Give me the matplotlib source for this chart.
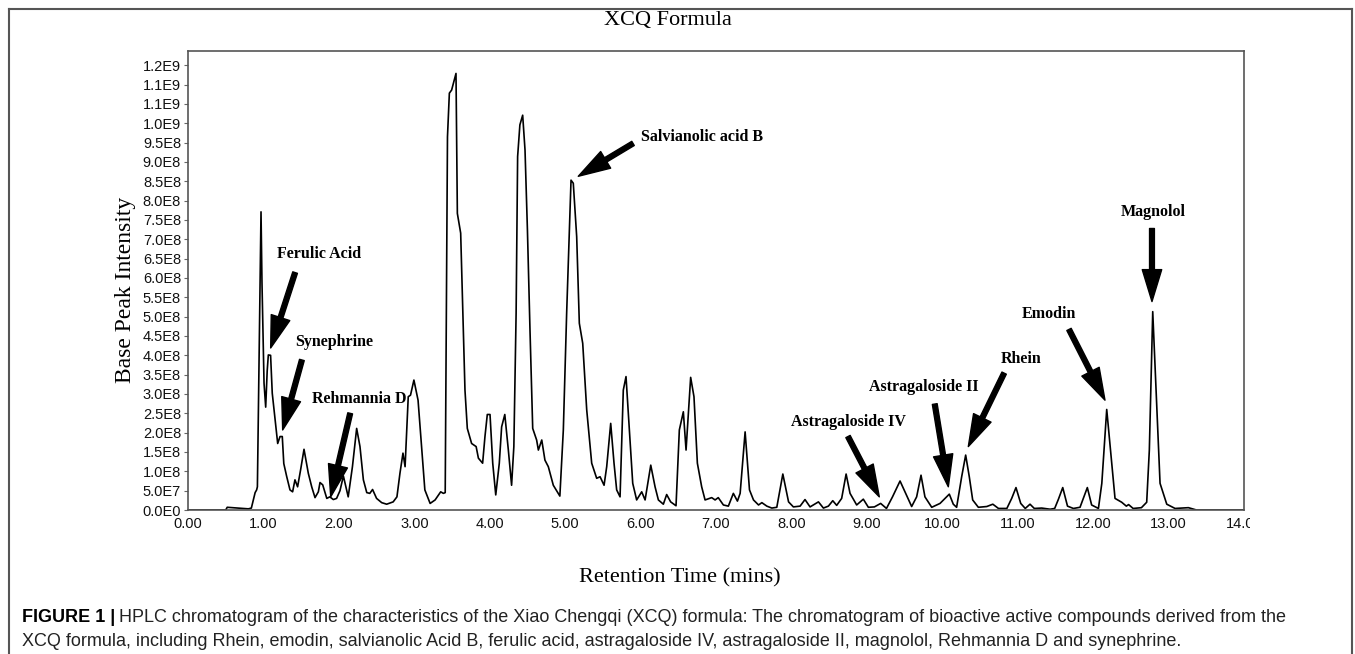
import numpy as np
import matplotlib

matplotlib.use("Agg")
import matplotlib.pyplot as plt
from matplotlib.lines import Line2D
from matplotlib.transforms import Bbox, TransformedBbox

# retention time (mins) and base peak intensity (x1e8)
rt = [
    0.00, 0.50, 0.52, 0.80, 0.84, 0.89, 0.91, 0.92, 0.968, 0.981, 1.008, 1.03,
    1.05, 1.065, 1.095, 1.117, 1.14, 1.189, 1.22, 1.25, 1.27, 1.308, 1.352,
    1.387, 1.418, 1.453, 1.493, 1.538, 1.595, 1.64, 1.684, 1.728, 1.75, 1.786,
    1.84, 1.88, 1.927, 1.97, 2.015, 2.06, 2.124, 2.18, 2.236, 2.28, 2.325,
    2.37, 2.41, 2.447, 2.50, 2.568, 2.634, 2.72, 2.77, 2.81, 2.85, 2.878,
    2.92, 2.95, 2.995, 3.05, 3.10, 3.14, 3.21, 3.276, 3.35, 3.386, 3.41,
    3.44, 3.465, 3.495, 3.553, 3.571, 3.615, 3.65, 3.672, 3.703, 3.76, 3.82,
    3.85, 3.906, 3.937, 3.968, 4.004, 4.04, 4.08, 4.127, 4.158, 4.20, 4.247,
    4.29, 4.32, 4.35, 4.37, 4.40, 4.437, 4.468, 4.50, 4.534, 4.57, 4.622,
    4.645, 4.69, 4.732, 4.777, 4.843, 4.93, 4.976, 5.02, 5.078, 5.108, 5.153,
    5.188, 5.233, 5.286, 5.352, 5.418, 5.463, 5.516, 5.551, 5.604, 5.648,
    5.683, 5.728, 5.771, 5.807, 5.851, 5.896, 5.948, 6.015, 6.06, 6.135,
    6.192, 6.236, 6.302, 6.346, 6.399, 6.47, 6.514, 6.567, 6.603, 6.664,
    6.708, 6.753, 6.81, 6.855, 6.912, 6.943, 6.988, 7.03, 7.098, 7.164, 7.23,
    7.284, 7.32, 7.386, 7.444, 7.497, 7.564, 7.608, 7.674, 7.74, 7.806, 7.886,
    7.962, 8.026, 8.115, 8.18, 8.247, 8.358, 8.424, 8.49, 8.548, 8.60, 8.666,
    8.725, 8.777, 8.865, 8.953, 9.02, 9.10, 9.183, 9.26, 9.34, 9.44, 9.505,
    9.594, 9.66, 9.718, 9.77, 9.86, 9.97, 10.093, 10.146, 10.19, 10.257,
    10.31, 10.358, 10.403, 10.478, 10.59, 10.67, 10.745, 10.856, 10.92,
    10.977, 11.04, 11.10, 11.163, 11.22, 11.318, 11.43, 11.49, 11.54, 11.597,
    11.66, 11.738, 11.826, 11.923, 11.98, 12.07, 12.115, 12.18, 12.238, 12.29,
    12.379, 12.44, 12.47, 12.53, 12.64, 12.71, 12.745, 12.79, 12.83, 12.887,
    12.976, 13.086, 13.263, 13.37, 14.00,
]
intensity = [
    0.00, 0.00, 0.07, 0.03, 0.05, 0.45, 0.52, 0.60, 7.71, 5.86, 3.28, 2.66,
    3.60, 4.01, 4.00, 3.02, 2.60, 1.72, 1.90, 1.90, 1.20, 0.87, 0.52,
    0.47, 0.78, 0.60, 1.04, 1.57, 0.95, 0.60, 0.32, 0.47, 0.71, 0.65,
    0.30, 0.34, 0.27, 0.30, 0.50, 0.88, 0.34, 1.12, 2.11, 1.64, 0.78,
    0.45, 0.43, 0.53, 0.30, 0.19, 0.15, 0.21, 0.34, 0.95, 1.47, 1.12,
    2.93, 2.97, 3.36, 2.84, 1.55, 0.52, 0.17, 0.26, 0.47, 0.43, 0.45,
    9.65, 10.78, 10.86, 11.29, 7.67, 7.16, 4.65, 3.10, 2.11, 1.72, 1.64,
    1.34, 1.21, 1.90, 2.47, 2.47, 1.21, 0.39, 1.21, 2.15, 2.47, 1.55,
    0.64, 1.64, 5.09, 9.14, 9.96, 10.21, 9.31, 7.24, 4.65, 2.11, 1.81,
    1.55, 1.81, 1.29, 1.12, 0.64, 0.36, 2.07, 5.09, 8.53, 8.45, 7.07,
    4.83, 4.31, 2.59, 1.21, 0.82, 0.86, 0.64, 1.12, 2.24, 1.21,
    0.52, 0.34, 3.10, 3.45, 2.07, 0.69, 0.26, 0.47, 0.26, 1.16,
    0.60, 0.26, 0.15, 0.40, 0.21, 0.11, 2.07, 2.54, 1.55, 3.43,
    2.93, 1.21, 0.60, 0.26, 0.30, 0.32, 0.26, 0.32, 0.13, 0.10, 0.43,
    0.23, 0.43, 2.02, 0.52, 0.26, 0.13, 0.19, 0.10, 0.05, 0.07, 0.93,
    0.21, 0.08, 0.10, 0.27, 0.08, 0.21, 0.05, 0.10, 0.24, 0.12, 0.30,
    0.93, 0.43, 0.13, 0.28, 0.07, 0.08, 0.17, 0.04, 0.34, 0.75, 0.47,
    0.09, 0.34, 0.90, 0.34, 0.07, 0.17, 0.41, 0.15, 0.07, 0.86,
    1.42, 0.86, 0.26, 0.07, 0.09, 0.15, 0.04, 0.04, 0.30,
    0.58, 0.17, 0.04, 0.15, 0.04, 0.05, 0.02, 0.04, 0.28, 0.58,
    0.10, 0.04, 0.07, 0.58, 0.13, 0.04, 0.69, 2.60, 1.38, 0.30,
    0.20, 0.10, 0.14, 0.04, 0.06, 0.20, 1.55, 5.13, 3.28, 0.69,
    0.15, 0.04, 0.06, 0.00, 0.00,
]

ytick_vals = np.arange(0, 24) * 5e7
ytick_labels = [
    "0.0E0", "5.0E7", "1.0E8", "1.5E8", "2.0E8", "2.5E8", "3.0E8", "3.5E8",
    "4.0E8", "4.5E8", "5.0E8", "5.5E8", "6.0E8", "6.5E8", "7.0E8", "7.5E8",
    "8.0E8", "8.5E8", "9.0E8", "9.5E8", "1.0E9", "1.1E9", "1.1E9", "1.2E9",
]
xtick_vals = list(range(15))
xtick_labels = [f"{v}.00" for v in xtick_vals]

compounds = ["Ferulic Acid", "Synephrine", "Rehmannia D", "Salvianolic acid B",
             "Astragaloside IV", "Astragaloside II", "Rhein", "Emodin",
             "Magnolol"]
# (label x, label y, arrow tail x, tail y, tip x, tip y) in data units (y x1e8)
label_pos = [
    (1.74, 6.62, 1.42, 6.14, 1.096, 4.19),
    (1.94, 4.34, 1.51, 3.88, 1.255, 2.07),
    (2.27, 2.86, 2.15, 2.50, 1.892, 0.34),
    (6.82, 9.65, 5.90, 9.48, 5.174, 8.63),
    (8.75, 2.28, 8.75, 1.90, 9.165, 0.34),
    (9.76, 3.17, 9.90, 2.74, 10.08, 0.60),
    (11.05, 3.90, 10.82, 3.54, 10.345, 1.64),
    (11.41, 5.07, 11.68, 4.67, 12.157, 2.84),
    (12.80, 7.70, 12.78, 7.28, 12.78, 5.39),
]

SERIF = ["Liberation Serif", "DejaVu Serif"]
SANS = ["Liberation Sans", "DejaVu Sans"]

W, H = 1355, 654
fig = plt.figure(figsize=(W / 100, H / 100), dpi=100)
ax = fig.add_axes([188 / W, 1 - 510 / H, (1244 - 188) / W, (510 - 51) / H])

ax.plot(rt, np.array(intensity) * 1e8, color="black", lw=1.2)
ax.set_xlim(0, 14)
ax.set_ylim(0, 1.187e9)

ax.set_yticks(ytick_vals)
ax.set_yticklabels(ytick_labels, family=SANS, fontsize=10.5, color="#111111")
ax.set_xticks(xtick_vals)
ax.set_xticklabels(xtick_labels, family=SANS, fontsize=10.5, color="#111111")
ax.tick_params(axis="y", length=3, width=0.8, color="#666666", pad=2)
ax.tick_params(axis="x", length=0, pad=5)
for sp in ax.spines.values():
    sp.set_color("#555555")
    sp.set_linewidth(1.2)

# the last x label is cut off in the original
clip = TransformedBbox(Bbox([[0, 0], [1250 / W, 1]]), fig.transFigure)
for tl in ax.get_xticklabels():
    tl.set_clip_box(clip)
    tl.set_clip_on(True)

fig.text(668 / W, 1 - 20 / H, "XCQ Formula", family=SERIF, fontsize=16,
         ha="center", va="center")
fig.text(680 / W, 1 - 578 / H, "Retention Time (mins)", family=SERIF,
         fontsize=16, ha="center", va="center")
fig.text(125 / W, 1 - 290 / H, "Base Peak Intensity", family=SERIF,
         fontsize=17, ha="center", va="center", rotation=90)

for name, (lx, ly, tx, ty, px, py) in zip(compounds, label_pos):
    ax.text(lx, ly * 1e8, name, family=SERIF, fontsize=11.5, fontweight="bold",
            ha="center", va="center")
    ax.annotate("", xy=(px, py * 1e8), xytext=(tx, ty * 1e8),
                arrowprops=dict(facecolor="black", edgecolor="black",
                                width=3.5, headwidth=14, headlength=23,
                                shrink=0))

# outer frame (open at the bottom)
frame = dict(color="#555555", lw=1.5)
fig.add_artist(Line2D([9 / W, 9 / W], [0, 1 - 9 / H], **frame))
fig.add_artist(Line2D([9 / W, 1352 / W], [1 - 9 / H, 1 - 9 / H], **frame))
fig.add_artist(Line2D([1352 / W, 1352 / W], [0, 1 - 9 / H], **frame))

# caption
cap1 = fig.text(22 / W, 1 - 617 / H, "FIGURE 1 |", family=SANS, fontsize=13,
                fontweight="bold", va="center")
fig.canvas.draw()
bb = cap1.get_window_extent()
fig.text((bb.x1 + 4) / W, 1 - 617 / H,
         "HPLC chromatogram of the characteristics of the Xiao Chengqi (XCQ) "
         "formula: The chromatogram of bioactive active compounds derived from the",
         family=SANS, fontsize=13, va="center", color="#222222")
fig.text(22 / W, 1 - 641 / H,
         "XCQ formula, including Rhein, emodin, salvianolic Acid B, ferulic acid, "
         "astragaloside IV, astragaloside II, magnolol, Rehmannia D and synephrine.",
         family=SANS, fontsize=13, va="center", color="#222222")

fig.savefig("out.png", dpi=100)
